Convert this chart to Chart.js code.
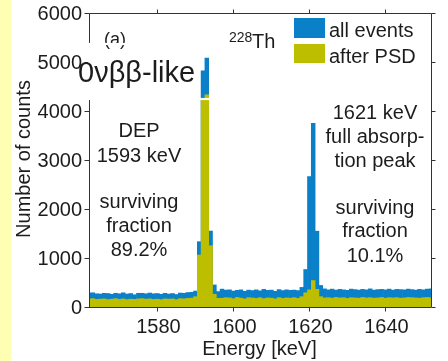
<!DOCTYPE html>
<html><head><meta charset="utf-8">
<script src="https://cdn.jsdelivr.net/npm/chart.js@4/dist/chart.umd.min.js"></script>
<style>
html,body{margin:0;padding:0;background:#fff;}
#wrap{position:relative;width:448px;height:361px;background:#fff;}
canvas{display:block;}
</style></head><body>
<div id="wrap"><canvas id="c" width="448" height="361"></canvas></div>
<script>
// bin centres [keV]
const energies = [1562,1563,1564,1565,1566,1567,1568,1569,1570,1571,1572,1573,1574,1575,1576,1577,1578,1579,1580,1581,1582,1583,1584,1585,1586,1587,1588,1589,1590,1591,1592,1593,1594,1595,1596,1597,1598,1599,1600,1601,1602,1603,1604,1605,1606,1607,1608,1609,1610,1611,1612,1613,1614,1615,1616,1617,1618,1619,1620,1621,1622,1623,1624,1625,1626,1627,1628,1629,1630,1631,1632,1633,1634,1635,1636,1637,1638,1639,1640,1641,1642,1643,1644,1645,1646,1647,1648,1649,1650,1651,1652];
// counts, all events
const allEvents = [285,290,270,265,280,275,260,280,270,290,265,275,250,280,280,270,285,270,275,260,280,265,275,255,285,280,295,300,325,1333,4820,5080,1550,450,315,365,345,350,325,340,350,320,345,335,350,330,360,340,345,320,355,335,350,340,345,335,400,765,2660,3750,1547,440,370,350,365,345,360,350,340,365,355,345,360,350,370,345,355,360,350,365,345,360,355,350,365,355,345,360,350,365,370];
// counts, after PSD
const afterPSD = [165,170,155,160,165,150,160,170,155,165,150,160,155,165,170,160,165,155,160,150,165,160,165,150,170,165,175,180,210,1061,4220,4330,1250,260,177,178,190,185,170,195,180,165,190,185,175,190,170,185,180,165,190,175,185,180,190,175,210,290,350,540,360,210,185,190,180,195,185,190,175,190,185,180,195,185,190,180,185,195,180,190,185,190,180,185,195,190,185,180,190,195,190];
const xTicks = [1580,1600,1620,1640];
const yTicks = [0,1000,2000,3000,4000,5000,6000];
const seriesNames = ['all events','after PSD'];
const seriesColors = ['#0A80C8','#BEBE00'];

const FONT = '"Liberation Sans", Arial, sans-serif';
const INK = '#1c1c1c';

const decor = {
  id:'decor',
  beforeDraw(chart){
    const c = chart.ctx;
    c.save();
    c.fillStyle = '#fff';
    c.fillRect(0,0,chart.width,chart.height);
    c.fillStyle = '#FFFFB4';
    c.fillRect(0,0,11,chart.height);
    c.restore();
  },
  beforeDatasetsDraw(chart){
    const c = chart.ctx, a = chart.chartArea;
    c.save();
    c.strokeStyle = '#333';
    c.lineWidth = 1;
    c.beginPath();
    c.moveTo(a.left, a.bottom+0.5); c.lineTo(a.right, a.bottom+0.5);
    c.stroke();
    c.restore();
  },
  afterDatasetsDraw(chart){
    const c = chart.ctx, a = chart.chartArea;
    const xs = chart.scales.x, ys = chart.scales.y;
    c.save();
    c.strokeStyle = '#333';
    c.lineWidth = 1;
    c.beginPath();
    const L = a.left+0.5, R = a.right+0.5, T = a.top+0.5, B = a.bottom+0.5;
    c.moveTo(L, B); c.lineTo(L, T); c.lineTo(R, T); c.lineTo(R, B);
    yTicks.forEach(v=>{
      const y = Math.round(ys.getPixelForValue(v))+0.5;
      c.moveTo(L-5, y); c.lineTo(L, y);
      c.moveTo(R, y); c.lineTo(R+4, y);
    });
    xTicks.forEach(v=>{
      const x = Math.round(xs.getPixelForValue(v))+0.5;
      c.moveTo(x, T); c.lineTo(x, T-4);
      c.moveTo(x, B); c.lineTo(x, B+4);
    });
    c.stroke();

    c.fillStyle = INK;
    c.font = '20px '+FONT;
    c.textAlign = 'right'; c.textBaseline = 'middle';
    yTicks.forEach(v=>{
      const y = ys.getPixelForValue(v);
      c.fillText(String(v), 82, y+1);
    });
    c.textAlign = 'center'; c.textBaseline = 'alphabetic';
    xTicks.forEach(v=>{
      const x = xs.getPixelForValue(v);
      c.fillText(String(v), x+1, 333);
    });
    c.fillText('Energy [keV]', 259.5, 354.5);
    c.save();
    c.translate(29.5, 159);
    c.rotate(-Math.PI/2);
    c.fillText('Number of counts', 0, 0);
    c.restore();

    c.textAlign = 'left';
    c.font = '18px '+FONT;
    c.fillText('(a)', 104, 44.5);

    c.strokeStyle = '#fff';
    c.lineWidth = 2.2;
    c.strokeRect(89, 44, 126, 55);

    c.fillStyle = INK;
    c.font = '29px '+FONT;
    c.fillText('0νββ-like', 78, 81.5);

    c.font = '14px '+FONT;
    c.fillText('228', 229, 41.5);
    c.font = '20px '+FONT;
    c.fillText('Th', 252, 48.3);

    c.fillStyle = seriesColors[0];
    c.fillRect(294, 18, 31, 20);
    c.fillStyle = seriesColors[1];
    c.fillRect(294, 44, 31, 19);
    c.fillStyle = INK;
    c.font = '20px '+FONT;
    c.fillText(seriesNames[0], 329, 37);
    c.fillText(seriesNames[1], 329, 62.8);

    c.textAlign = 'center';
    const left = [['DEP',136.7],['1593 keV',161.7],['surviving',208.3],['fraction',232.3],['89.2%',256]];
    left.forEach(([t,y])=>c.fillText(t, 139, y));
    const right = [['1621 keV',119.3],['full absorp-',143.3],['tion peak',166.9],['surviving',213.5],['fraction',237.3],['10.1%',261.5]];
    right.forEach(([t,y])=>c.fillText(t, 375, y));
    c.restore();
  }
};

const mk = (vals)=>energies.map((e,i)=>({x:e, y:vals[i]}));
new Chart(document.getElementById('c'), {
  type:'bar',
  data:{datasets:[
    {label:seriesNames[0], data:mk(allEvents), backgroundColor:seriesColors[0], borderWidth:0, barPercentage:1, categoryPercentage:1, grouped:false, order:2},
    {label:seriesNames[1], data:mk(afterPSD), backgroundColor:seriesColors[1], borderWidth:0, barPercentage:1, categoryPercentage:1, grouped:false, order:1}
  ]},
  options:{
    responsive:false, animation:false, devicePixelRatio:1,
    layout:{padding:{left:0,right:17,top:13,bottom:0}},
    plugins:{legend:{display:false}, tooltip:{enabled:false}, title:{display:false}},
    scales:{
      x:{type:'linear', min:1562, max:1652, offset:false, grid:{display:false}, border:{display:false}, ticks:{display:false}, afterFit:s=>{s.height=54;}},
      y:{type:'linear', min:0, max:6000, grid:{display:false}, border:{display:false}, ticks:{display:false}, afterFit:s=>{s.width=89;}}
    }
  },
  plugins:[decor]
});
</script>
</body></html>
